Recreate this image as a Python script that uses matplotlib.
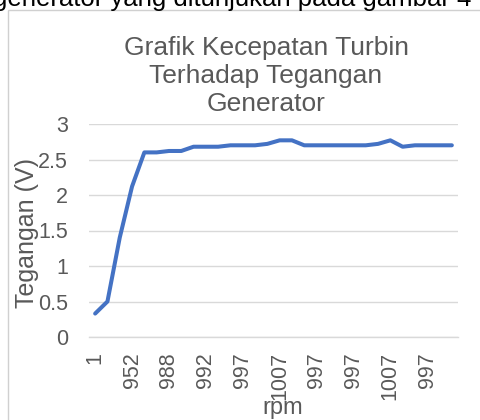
import matplotlib
matplotlib.use("Agg")
import matplotlib.pyplot as plt
from matplotlib.patches import Rectangle

plt.rcParams['font.family'] = ['Liberation Sans', 'DejaVu Sans']

# Data
tegangan = [0.33, 0.50, 1.40, 2.12, 2.60, 2.60, 2.62, 2.62, 2.68, 2.68,
            2.68, 2.70, 2.70, 2.70, 2.72, 2.77, 2.77, 2.70, 2.70, 2.70,
            2.70, 2.70, 2.70, 2.72, 2.77, 2.68, 2.70, 2.70, 2.70, 2.70]
tick_labels = ['1', '952', '988', '992', '997', '1007', '997', '997', '1007', '997']
tick_step = 3
y_ticks = [0, 0.5, 1, 1.5, 2, 2.5, 3]
y_tick_labels = ['0', '0.5', '1', '1.5', '2', '2.5', '3']
title = 'Grafik Kecepatan Turbin\nTerhadap Tegangan\nGenerator'
xlabel = 'rpm'
ylabel = 'Tegangan (V)'
caption = 'generator yang ditunjukan pada gambar 4'

W, H = 481, 420
fig = plt.figure(figsize=(W / 100, H / 100), dpi=100)
fig.patch.set_facecolor('white')

# chart border (partially visible)
fig.patches.append(Rectangle((8 / W, -0.05), 1.2, (H - 10) / H + 0.05,
                             transform=fig.transFigure, fill=False,
                             edgecolor='#d0d0d0', linewidth=1.0))

# cut-off text above the chart
fig.text(-7 / W, 1 - 6 / H, caption, fontsize=18.5, color='black',
         ha='left', va='baseline')

# plot area
x0, x1 = 89, 458
y_top, y_bot = 124, 337
ax = fig.add_axes([x0 / W, 1 - y_bot / H, (x1 - x0) / W, (y_bot - y_top) / H])
n = len(tegangan)
xs = list(range(n))
ax.plot(xs, tegangan, color='#4472C4', linewidth=2.9, solid_capstyle='round',
        solid_joinstyle='round')
ax.set_xlim(-0.5, n - 0.5)
ax.set_ylim(0, 3)
ax.set_yticks(y_ticks)
ax.set_yticklabels(y_tick_labels)
ax.set_xticks(xs[::tick_step])
ax.set_xticklabels(tick_labels, rotation=90)
ax.tick_params(axis='both', length=0, labelsize=15.5, colors='#595959')
ax.tick_params(axis='y', pad=15)
ax.tick_params(axis='x', pad=11)
ax.grid(axis='y', color='#d9d9d9', linewidth=1.0)
ax.set_axisbelow(True)
for s in ['top', 'right', 'left']:
    ax.spines[s].set_visible(False)
ax.spines['bottom'].set_color('#d9d9d9')
ax.spines['bottom'].set_linewidth(1.0)

fig.text(266 / W, 1 - 76 / H, title, fontsize=19, color='#595959',
         ha='center', va='center', linespacing=1.2)
fig.text(27 / W, 1 - 233 / H, ylabel, fontsize=18, color='#595959',
         ha='center', va='center', rotation=90)
fig.text(283 / W, 1 - 408 / H, xlabel, fontsize=17, color='#595959',
         ha='center', va='center')

fig.savefig('out.png', dpi=100)
